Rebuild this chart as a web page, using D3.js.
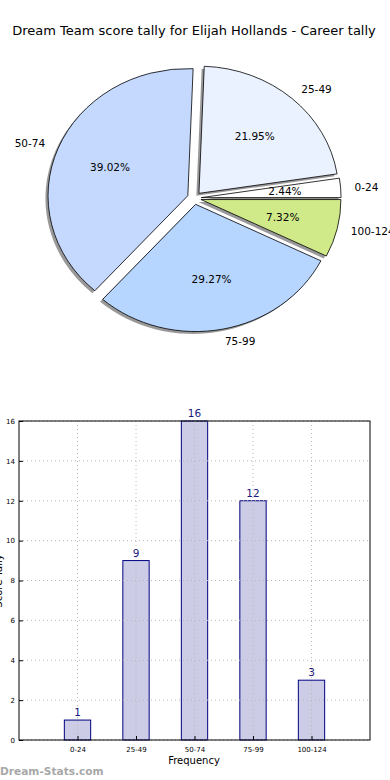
<!DOCTYPE html>
<html><head><meta charset="utf-8">
<script src="https://cdn.jsdelivr.net/npm/d3@7"></script>
<style>body{margin:0;background:#fff}svg{display:block;font-family:"DejaVu Sans",sans-serif}</style>
</head><body>
<svg id="c" width="390" height="780"></svg>
<script>
const categories = ["0-24","25-49","50-74","75-99","100-124"];
const counts = [1, 9, 16, 12, 3];
const pieColors = ["#ffffff","#eaf1ff","#c5d9ff","#b6d5ff","#d0ea8a"];
const yTicks = [0,2,4,6,8,10,12,14,16];
const title = "Dream Team score tally for Elijah Hollands - Career tally";

const svg = d3.select("#c");
svg.append("text").attr("x",194).attr("y",35).attr("text-anchor","middle")
  .attr("font-size",13).attr("fill","#000").text(title);

// ---- Pie ----
const cx = 194.3, cy = 198.1, rx = 139.8, ry = 127.2, explode = 0.05;
const total = d3.sum(counts);
const pie = d3.pie().sort(null).startAngle(Math.PI/2).endAngle(Math.PI/2 - 2*Math.PI);
const arcs = pie(counts);
const arc = d3.arc().innerRadius(0).outerRadius(1);
const pg = svg.append("g");
arcs.forEach((a,i) => {
  const m = (a.startAngle + a.endAngle)/2;
  const dx = Math.sin(m), dy = -Math.cos(m);
  const ox = cx + explode*rx*dx, oy = cy + explode*ry*dy;
  pg.append("path").attr("d", arc(a))
    .attr("transform", `translate(${ox-2.6},${oy+2.4}) scale(${rx},${ry})`)
    .attr("fill","#808080").attr("opacity",0.8);
  pg.append("path").attr("d", arc(a))
    .attr("transform", `translate(${ox},${oy}) scale(${rx},${ry})`)
    .attr("fill", pieColors[i]).attr("stroke","#000").attr("stroke-width",0.8)
    .attr("vector-effect","non-scaling-stroke");
});
arcs.forEach((a,i) => {
  const m = (a.startAngle + a.endAngle)/2;
  const dx = Math.sin(m), dy = -Math.cos(m);
  const lx = cx + (1.1+explode)*rx*dx, ly = cy + (1.1+explode)*ry*dy;
  pg.append("text").attr("x",lx).attr("y",ly).attr("dy","0.35em")
    .attr("text-anchor", dx > 0 ? "start" : "end").attr("font-size",10.5)
    .text(categories[i]);
  const px = cx + (0.6+explode)*rx*dx, py = cy + (0.6+explode)*ry*dy;
  pg.append("text").attr("x",px).attr("y",py).attr("dy","0.35em")
    .attr("text-anchor","middle").attr("font-size",10.5)
    .text((counts[i]/total*100).toFixed(2)+"%");
});

// ---- Bar chart ----
const L = 19, R = 370, T = 421, B = 740;
const x = d3.scaleLinear().domain([-1, 5]).range([L, R]);
const y = d3.scaleLinear().domain([0, 16]).range([B, T]);
const bw = 0.45;
const bg = svg.append("g");
bg.selectAll("rect.bar").data(counts).join("rect").attr("class","bar")
  .attr("x",(d,i)=>x(i-bw/2)).attr("width",x(bw)-x(0))
  .attr("y",d=>y(d)).attr("height",d=>B-y(d))
  .attr("fill","#ccccE6").attr("stroke","#000080").attr("stroke-width",1);
bg.selectAll("line.hg").data(yTicks).join("line").attr("class","hg")
  .attr("x1",L).attr("x2",R).attr("y1",d=>y(d)).attr("y2",d=>y(d))
  .attr("stroke","#b8b8b8").attr("stroke-width",1).attr("stroke-dasharray","1,3");
bg.selectAll("line.vg").data(categories).join("line").attr("class","vg")
  .attr("x1",(d,i)=>x(i)).attr("x2",(d,i)=>x(i)).attr("y1",T).attr("y2",B)
  .attr("stroke","#b8b8b8").attr("stroke-width",1).attr("stroke-dasharray","1,3");
const yAxis = d3.axisLeft(y).tickValues(yTicks).tickSize(-4).tickPadding(4);
const ya = bg.append("g").attr("transform",`translate(${L},0)`).call(yAxis);
ya.select(".domain").remove();
ya.selectAll("text").attr("font-size",7).attr("font-family","DejaVu Sans, sans-serif").attr("fill","#000");
ya.selectAll("line").attr("stroke","#000");
const xAxis = d3.axisBottom(x).tickValues(d3.range(categories.length)).tickFormat(i=>categories[i]).tickSize(-4).tickPadding(7);
const xa = bg.append("g").attr("transform",`translate(0,${B})`).call(xAxis);
xa.select(".domain").remove();
xa.selectAll("text").attr("font-size",7).attr("font-family","DejaVu Sans, sans-serif").attr("fill","#000");
xa.selectAll("line").attr("stroke","#000");
bg.append("rect").attr("x",L).attr("y",T).attr("width",R-L).attr("height",B-T)
  .attr("fill","none").attr("stroke","#000").attr("stroke-width",1);
bg.selectAll("text.val").data(counts).join("text").attr("class","val")
  .attr("x",(d,i)=>x(i)).attr("y",d=>y(d)-4).attr("text-anchor","middle")
  .attr("font-size",10.5).attr("fill","#1a1a80").text(d=>d);
svg.append("text").attr("x",194).attr("y",764).attr("text-anchor","middle")
  .attr("font-size",10).text("Frequency");
svg.append("text").attr("transform","translate(2,581) rotate(-90)")
  .attr("text-anchor","middle").attr("font-size",10).text("Score Tally");
svg.append("text").attr("x",0).attr("y",775).attr("font-size",10.6)
  .attr("font-weight","bold").attr("fill","#a8a8a8").text("Dream-Stats.com");
</script>
</body></html>
